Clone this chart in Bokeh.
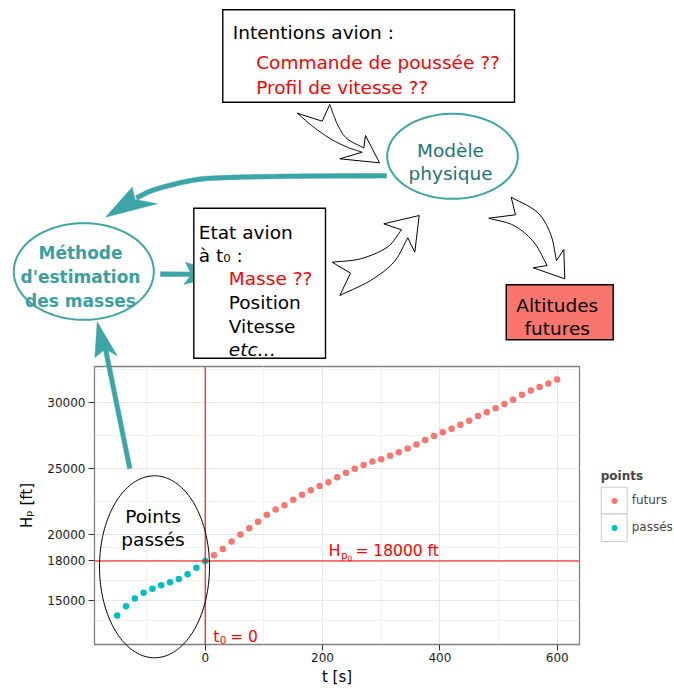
import numpy as np
from bokeh.plotting import figure
from bokeh.layouts import column
from bokeh.models import (Range1d, FixedTicker, Span, Label, Legend, LegendItem)
from bokeh.embed import file_html
from bokeh.resources import INLINE

# ---------------- data ----------------
t_passes = [-150, -135, -120, -105, -90, -75, -60, -45, -30, -15, 0]
hp_passes = [13860, 14570, 15150, 15580, 15890, 16160, 16390, 16640, 17000, 17480, 18000]
t_futurs = [15, 30, 45, 60, 75, 90, 105, 120, 135, 150, 165, 180, 195, 210, 225, 240,
            255, 270, 285, 300, 315, 330, 345, 360, 375, 390, 405, 420, 435, 450, 465,
            480, 495, 510, 525, 540, 555, 570, 585, 600]
hp_futurs = [18440, 18900, 19480, 20010, 20490, 20970, 21500, 21900, 22230, 22640,
             23020, 23370, 23680, 23980, 24360, 24690, 24990, 25290, 25550, 25720,
             25980, 26250, 26530, 26840, 27170, 27490, 27770, 28030, 28330, 28630,
             28990, 29290, 29590, 29900, 30230, 30610, 30930, 31190, 31460, 31770]
x_breaks = [0, 200, 400, 600]
x_minor = [-100, 100, 300, 500]
y_breaks = [15000, 18000, 20000, 25000, 30000]
y_minor = [13500, 16500, 19000, 22500, 27500, 32500]
T0 = 0
HP0 = 18000
legend_title = "points"
legend_labels = ["futurs", "passés"]

# ---------------- layout constants ----------------
W, H = 674, 689
L, R, T, B = 94, 579, 366, 644          # chart frame in canvas px
XMIN, XMAX = -188.7, 638.0
YMIN, YMAX = 11662, 32754

RED_PT = "#F8766D"
CYAN_PT = "#00BFC4"
TEAL = "#3BA5A8"
TEAL_DARK = "#1E7475"
TEAL_BOLD = "#3A9FA1"
FONT = "DejaVu Sans"

# ================= chart figure (bottom layer) =================
pc = figure(width=W, height=H, output_backend="svg", toolbar_location=None,
            title=None, x_range=Range1d(XMIN, XMAX), y_range=Range1d(YMIN, YMAX),
            min_border_left=L, min_border_right=W - R, min_border_top=T,
            min_border_bottom=H - B)
pc.frame_align = False
pc.background_fill_color = "white"
pc.border_fill_color = "white"
pc.outline_line_color = "#7F7F7F"
pc.outline_line_width = 1.3

xt = FixedTicker(ticks=x_breaks, minor_ticks=x_minor)
yt = FixedTicker(ticks=y_breaks, minor_ticks=y_minor)
pc.xaxis.ticker = xt
pc.yaxis.ticker = yt
pc.xgrid.ticker = xt
pc.ygrid.ticker = yt
for g in (pc.xgrid[0], pc.ygrid[0]):
    g.grid_line_color = "#E5E5E5"
    g.grid_line_width = 1
    g.minor_grid_line_color = "#F3F3F3"
    g.minor_grid_line_width = 1

for ax in (pc.xaxis[0], pc.yaxis[0]):
    ax.axis_line_color = None
    ax.major_tick_line_color = "#333333"
    ax.major_tick_in = 0
    ax.major_tick_out = 6
    ax.minor_tick_line_color = None
    ax.major_label_text_font = FONT
    ax.major_label_text_font_size = "12px"
    ax.major_label_text_color = "#1A1A1A"
    ax.axis_label_text_font = FONT
    ax.axis_label_text_font_size = "15px"
    ax.axis_label_text_font_style = "normal"
    ax.axis_label_text_color = "black"
pc.xaxis.axis_label = "t [s]"
pc.yaxis.axis_label = "Hₚ [ft]"
pc.xaxis.major_label_standoff = 2
pc.xaxis.axis_label_standoff = 3
pc.yaxis.major_label_standoff = 3
pc.yaxis.axis_label_standoff = 8

pc.add_layout(Span(location=T0, dimension="height", line_color="red", line_width=1.1))
pc.add_layout(Span(location=HP0, dimension="width", line_color="red", line_width=1.1))

r_fut = pc.scatter(t_futurs, hp_futurs, size=6.5, fill_color=RED_PT, line_color=None)
r_pas = pc.scatter(t_passes, hp_passes, size=6.5, fill_color=CYAN_PT, line_color=None)


def clabel(x, y, s, dx, dy, size):
    pc.add_layout(Label(x=x, y=y, x_offset=dx, y_offset=dy, text=s, text_font=FONT,
                        text_font_size=size, text_color="red", text_baseline="alphabetic"))


# "H_{p_0} = 18000 ft" built from pieces (sub/sub-subscript)
clabel(210, HP0, "H", 0, 10, "16px")
clabel(210, HP0, "p", 12.5, 6, "10.5px")
clabel(210, HP0, "0", 19, 3, "7.5px")
clabel(210, HP0, "= 18000 ft", 27, 10, "15.5px")
# "t_0 = 0"
clabel(T0, YMIN, "t", 8, 8, "15.5px")
clabel(T0, YMIN, "0", 14.5, 5, "10.5px")
clabel(T0, YMIN, "= 0", 25, 8, "15.5px")

# ================= diagram figure (transparent top layer, canvas px) =================
pd = figure(width=W, height=H, output_backend="svg", toolbar_location=None, title=None,
            x_range=Range1d(0, W), y_range=Range1d(H, 0),
            x_axis_location=None, y_axis_location=None,
            min_border_left=0, min_border_right=0, min_border_top=0, min_border_bottom=0)
pd.frame_align = False
pd.grid.visible = False
pd.outline_line_color = None
pd.background_fill_alpha = 0
pd.border_fill_alpha = 0
pd.margin = (-H, 0, 0, 0)


def poly(pts, fill=None, line="black", lw=1.0):
    xs = [a for a, b in pts]
    ys = [b for a, b in pts]
    pd.patch(xs, ys, fill_color=fill if fill else "white",
             fill_alpha=1.0 if fill else 0.0,
             line_color=line, line_width=lw, line_join="miter")


def text(ix, iy, s, size="18.5px", color="black", align="left", style="normal"):
    pd.add_layout(Label(x=ix, y=iy, text=s, text_font=FONT, text_font_size=size,
                        text_color=color, text_align=align, text_baseline="alphabetic",
                        text_font_style=style))


def catmull(pts, n=10):
    pts = np.array(pts, float)
    P = np.vstack([2 * pts[0] - pts[1], pts, 2 * pts[-1] - pts[-2]])
    out = []
    for i in range(1, len(P) - 2):
        p0, p1, p2, p3 = P[i - 1], P[i], P[i + 1], P[i + 2]
        for s in np.linspace(0, 1, n, endpoint=False):
            out.append(0.5 * ((2 * p1) + (-p0 + p2) * s + (2 * p0 - 5 * p1 + 4 * p2 - p3) * s * s
                              + (-p0 + 3 * p1 - 3 * p2 + p3) * s ** 3))
    out.append(pts[-1])
    return [tuple(q) for q in out]


def stroke(pts, w):
    pts = np.array(pts, float)
    left, right = [], []
    n = len(pts)
    for i in range(n):
        if i == 0:
            d = pts[1] - pts[0]
        elif i == n - 1:
            d = pts[-1] - pts[-2]
        else:
            d = pts[i + 1] - pts[i - 1]
        d = d / np.hypot(*d)
        nrm = np.array([-d[1], d[0]])
        left.append(tuple(pts[i] + nrm * w / 2))
        right.append(tuple(pts[i] - nrm * w / 2))
    return left + right[::-1]


def ellipse(ex, ey, w, h, n=160):
    a = np.linspace(0, 2 * np.pi, n, endpoint=False)
    return list(zip(ex + w / 2 * np.cos(a), ey + h / 2 * np.sin(a)))


def rect(x0, y0, x1, y1):
    return [(x0, y0), (x1, y0), (x1, y1), (x0, y1)]


# --- over the chart ---
poly(ellipse(154, 566.3, 110, 182), line="black", lw=1.0)
text(152.5, 516, "Points", align="center")
text(152.5, 539.3, "passés", align="center")

poly(stroke([(129.3, 468), (104.5, 346)], 4.5), fill=TEAL, line=TEAL, lw=0.5)
poly([(96.7, 321.3), (116.7, 355.3), (104.8, 348.5), (94.3, 357)], fill=TEAL, line=TEAL, lw=0.5)

# --- intentions box ---
poly(rect(222.3, 9.3, 514, 101.7), fill="white", line="black", lw=1.4)
text(232.3, 32, "Intentions avion :")
text(255.7, 62.3, "Commande de poussée ??", color="red")
text(255.7, 87.3, "Profil de vitesse ??", color="red")

# --- hollow arrows ---
a1 = ([(329.3, 104), (321.7, 120.7)]
      + catmull([(296.7, 112.7), (313.3, 126.7), (330, 138.3), (346.7, 146.7), (361.7, 151.7)])
      + [(339.3, 158.3), (379, 162.3), (365, 135)]
      + catmull([(363.3, 147.5), (346.7, 138.3), (338.3, 126.7), (333.3, 115), (329.3, 104)]))
poly(a1, fill="white", line="black", lw=1.0)

a3 = ([(331.7, 261.7), (350, 272.7)]
      + catmull([(339.3, 295), (370, 280), (393.3, 261.7), (407.3, 237.3)])
      + [(414.3, 251.7), (418.7, 215), (383.3, 223.3)]
      + catmull([(401, 229.3), (386.7, 246.7), (360, 258.3), (331.7, 261.7)]))
poly(a3, fill="white", line="black", lw=1.0)

a4 = ([(510.7, 196.7), (515, 214.3)]
      + catmull([(488.3, 217.7), (513.3, 225), (533.3, 241.7), (546.7, 265)])
      + [(532.7, 267.3), (564.3, 278.3), (563.3, 249)]
      + catmull([(556, 260), (550, 233.3), (536.7, 211.7), (510.7, 196.7)]))
poly(a4, fill="white", line="black", lw=1.0)

# --- physical model ---
poly(ellipse(452, 155.8, 130.6, 85), fill="white", line=TEAL, lw=2.0)
text(450, 150, "Modèle", color=TEAL_DARK, align="center")
text(450, 172.7, "physique", color=TEAL_DARK, align="center")

# --- big curved teal arrow ---
shaft = catmull([(386, 175.3), (320, 175.5), (260, 176.2), (220, 177.3), (200, 178.6),
                 (183, 181.6), (166.7, 185.5), (150, 190.6), (136, 197.5)], n=8)
poly(stroke(shaft, 4.6), fill=TEAL, line=TEAL, lw=0.5)
poly([(105, 216.7), (131.7, 186.7), (134.5, 199), (156.7, 203.3)], fill=TEAL, line=TEAL, lw=0.5)

# --- estimation method ---
poly(ellipse(83.3, 271, 140, 96.6), fill="white", line=TEAL, lw=2.0)
text(80, 252.7, "Méthode", size="17px", color=TEAL_BOLD, align="center", style="bold")
text(80, 276.8, "d'estimation", size="17px", color=TEAL_BOLD, align="center", style="bold")
text(80, 300, "des masses", size="17px", color=TEAL_BOLD, align="center", style="bold")

poly(stroke([(160, 273.6), (196, 273.8)], 4.6), fill=TEAL, line=TEAL, lw=0.5)
poly([(221.7, 274), (185, 261.7), (191, 274), (183.3, 284)], fill=TEAL, line=TEAL, lw=0.5)

# --- aircraft state box ---
poly(rect(193.3, 207.7, 325, 357.7), fill="white", line="black", lw=1.4)
text(198.3, 231.7, "Etat avion")
text(198.3, 255, "à t₀ :")
text(228.3, 278.3, "Masse ??", color="red")
text(228.3, 302.3, "Position")
text(228.3, 325.7, "Vitesse")
text(228.3, 349, "etc…", style="italic")

# --- future altitudes box ---
poly(rect(505.7, 284.3, 612.7, 339.3), fill=RED_PT, line="black", lw=1.4)
text(556.7, 305, "Altitudes", align="center")
text(556.7, 327.7, "futures", align="center")

# --- legend (key renderers carry the series but fall outside this layer's canvas range) ---
poly(rect(600.7, 486.7, 626.7, 513.3), line="#CCCCCC", lw=1.0)
poly(rect(600.7, 513.3, 626.7, 541), line="#CCCCCC", lw=1.0)
k_fut = pd.scatter(t_futurs, hp_futurs, size=6.5, fill_color=RED_PT, line_color=None)
k_pas = pd.scatter(t_passes, hp_passes, size=6.5, fill_color=CYAN_PT, line_color=None)
legend = Legend(items=[LegendItem(label=legend_labels[0], renderers=[k_fut]),
                       LegendItem(label=legend_labels[1], renderers=[k_pas])],
                title=legend_title, location=(600.7, H - 534.5))
legend.border_line_color = None
legend.background_fill_alpha = 0
legend.padding = 0
legend.margin = 0
legend.spacing = 12
legend.glyph_width = 26
legend.glyph_height = 15
legend.label_height = 15
legend.label_standoff = 5
legend.label_text_font = FONT
legend.label_text_font_size = "12px"
legend.title_text_font = FONT
legend.title_text_font_size = "12px"
legend.title_text_font_style = "bold"
legend.title_standoff = 10
pd.add_layout(legend)

layout = column(pc, pd, spacing=0)
open("out.html", "w").write(file_html(layout, INLINE))
